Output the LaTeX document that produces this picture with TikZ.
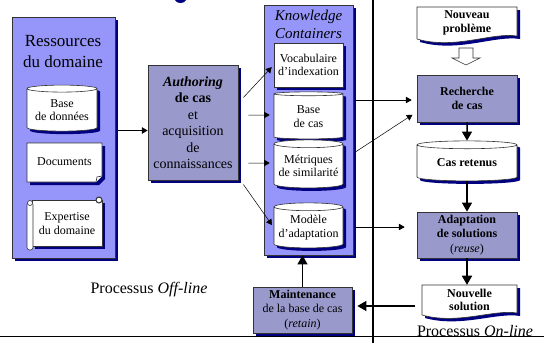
\documentclass[tikz,border=0pt]{standalone}
\usepackage{fontspec}
\setmainfont{Liberation Serif}
\usetikzlibrary{shapes.geometric,arrows,positioning,shadows}

\definecolor{ressblue}{RGB}{150,150,250}
\definecolor{procblue}{RGB}{153,153,204}
\definecolor{shadownavy}{RGB}{0,0,128}

\begin{document}
\begin{tikzpicture}[x=1pt, y=-1pt, >=triangle 60, inner sep=0pt,
    navyshadow/.style={drop shadow={shadow xshift=3pt, shadow yshift=-3pt, fill=shadownavy, opacity=1}},
    bigbox/.style={draw=black!80, line width=0.8pt, fill=ressblue, navyshadow},
    procbox/.style={draw=black!80, line width=0.8pt, fill=procblue, navyshadow, align=center, font=\fontsize{12}{14.5}\selectfont},
    store/.style={cylinder, shape border rotate=90, aspect=0.13, draw=black!80, line width=0.6pt, fill=white, navyshadow, align=center, font=\fontsize{12}{13.5}\selectfont},
    paper/.style={draw=black!80, line width=0.6pt, fill=white, navyshadow},
    txt/.style={align=center, font=\fontsize{12}{13.5}\selectfont},
    link/.style={->, line width=0.5pt},
    flowlink/.style={->, line width=1.5pt}]

  \useasboundingbox (0,0) rectangle (544,343);

  % bout du titre coupe en haut
  \fill[shadownavy] (175,0) .. controls (176,4) and (185,4) .. (186,0) -- cycle;

  % separateurs
  \draw[line width=1.2pt] (373,0) -- (373,343);
  \draw[line width=1pt] (0,336) -- (544,336);

  % ressources
  \node[bigbox, minimum width=103, minimum height=241] (res) at (63.5,137.5) {};
  \node[align=center, font=\fontsize{17}{21}\selectfont] (restitle) at (63,52) {Ressources\\du domaine};
  \node[store, minimum width=70, minimum height=46] (bdd) at (62,110) {Base\\de données};
  \draw[paper] (27,143) -- (102,143) -- (102,176) -- (96,182) -- (27,182) -- cycle;
  \draw[draw=black!80, line width=0.6pt, fill=white] (96,182) -- (97,177) -- (102,176);
  \node[txt] (docs) at (64.5,162) {Documents};
  \draw[paper] (32,200) rectangle (102,246);
  \draw[draw=black!80, line width=0.6pt, fill=white, rounded corners=2.5pt] (27,202) rectangle (33,250);
  \draw[draw=black!80, line width=0.6pt, fill=white] (30,203) circle (2.5);
  \draw[draw=black!80, line width=1pt, fill=white] (99,200) circle (3);
  \node[txt] (expert) at (67,223.5) {Expertise\\du domaine};

  % authoring
  \node[procbox, minimum width=90, minimum height=115, font=\fontsize{14}{16.5}\selectfont] (auth) at (193,122.5)
    {\textbf{\textit{Authoring}}\\\textbf{de cas}\\et\\acquisition\\de\\connaissances};

  % knowledge containers
  \node[bigbox, minimum width=89, minimum height=250] (kc) at (308.5,130) {};
  \node[align=center, font=\fontsize{15}{18}\selectfont\itshape] (kctitle) at (308.5,24) {Knowledge\\Containers};
  \node[paper, txt, minimum width=69, minimum height=44] (voc) at (308.5,65) {Vocabulaire\\d'indexation};
  \node[store, minimum width=69, minimum height=47] (bcas) at (308.5,116.5) {Base\\de cas};
  \node[store, minimum width=69, minimum height=48] (metr) at (308.5,166) {Métriques\\de similarité};
  \node[store, minimum width=69, minimum height=45] (mod) at (308.5,227.5) {Modèle\\d'adaptation};

  \node[procbox, minimum width=99, minimum height=46] (maint) at (302.5,310)
    {\textbf{Maintenance}\\de la base de cas\\(\textit{retain})};
  \node[font=\fontsize{16}{19}\selectfont] (offline) at (149,290) {Processus \textit{Off-line}};

  % on-line
  \draw[paper] (417,7) -- (517,7) -- (517,36) .. controls (492,32) and (455,50) .. (417,39) -- cycle;
  \node[txt, minimum width=100, minimum height=32] (nouv) at (467,23) {\textbf{Nouveau}\\\textbf{problème}};
  \draw[draw=black!80, line width=0.6pt, fill=white] (459,48) -- (473,48) -- (473,58) -- (480,58) -- (466,65) -- (452,58) -- (459,58) -- cycle;
  \node[procbox, minimum width=100, minimum height=47] (rech) at (467,98.5) {\textbf{Recherche}\\\textbf{de cas}};
  \node[store, minimum width=100, minimum height=40] (casr) at (467,163) {\textbf{Cas retenus}};
  \node[procbox, minimum width=100, minimum height=46] (adapt) at (467,235)
    {\textbf{Adaptation}\\\textbf{de solutions}\\(\textit{reuse})};
  \draw[paper] (422,285) -- (517,285) -- (517,313) .. controls (494,309) and (458,325) .. (422,315) -- cycle;
  \node[txt, minimum width=95, minimum height=30] (nsol) at (469.5,300) {\textbf{Nouvelle}\\\textbf{solution}};
  \node[font=\fontsize{16}{19}\selectfont] (online) at (475,331) {Processus \textit{On-line}};

  % liens
  \draw[link] ([xshift=3pt,yshift=7pt]res.east) -- ([yshift=-8pt]auth.west);
  \draw[link, shorten >=3pt] ([xshift=5pt,yshift=25pt]auth.east) -- (voc.west);
  \draw[link, shorten >=4pt] ([xshift=10pt,yshift=7.5pt]auth.east) -- ([yshift=1.5pt]bcas.west);
  \draw[link, shorten >=4pt] ([xshift=10pt,yshift=-40.5pt]auth.east) -- ([yshift=3pt]metr.west);
  \draw[link, shorten >=3pt] ([xshift=5pt,yshift=-62pt]auth.east) -- (mod.west);
  \draw[link, shorten >=5pt] ([xshift=2pt,yshift=30pt]kc.east) -- ([yshift=-1.5pt]rech.west);
  \draw[link, shorten >=5pt] ([xshift=2pt,yshift=-22pt]kc.east) -- ([yshift=-13.5pt]rech.west);
  \draw[link, shorten >=12pt] ([xshift=2pt,yshift=-97pt]kc.east) -- ([yshift=8pt]adapt.west);
  \draw[flowlink, shorten <=7pt, shorten >=5pt] ([yshift=-6pt]nsol.west) -- ([yshift=4pt]maint.east);
  \draw[flowlink] (maint.north) -- (maint.north |- kc.south);
  \draw[flowlink] (rech.south) -- (casr.north);
  \draw[flowlink] (casr.south) -- (adapt.north);
  \draw[flowlink] (adapt.south) -- (adapt.south |- nsol.north);
\end{tikzpicture}
\end{document}
